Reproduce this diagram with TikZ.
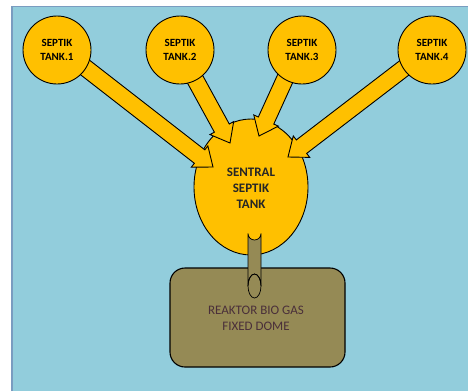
\documentclass[tikz,border=0pt]{standalone}
\usepackage{fontspec}
\setmainfont{Carlito}
\usetikzlibrary{calc,shapes.geometric}
\definecolor{bgblue}{HTML}{92CDDC}
\definecolor{tankyellow}{HTML}{FFC000}
\definecolor{olive}{HTML}{958A55}
\definecolor{edgeblue}{HTML}{7A9CC0}
\definecolor{textdark}{HTML}{4A2F3A}
\tikzset{
  tank/.style={circle, draw=black, line width=0.9pt, fill=tankyellow, minimum size=68pt, inner sep=0pt, align=center, font=\fontsize{11}{14}\selectfont\bfseries},
  central/.style={draw=black, line width=0.9pt, fill=tankyellow},
  reactor/.style={draw=black, line width=1.1pt, fill=olive, rounded corners=15pt},
  blockarrowstyle/.style={draw=black, line width=0.9pt, fill=tankyellow, line join=miter},
  pipestyle/.style={draw=black, line width=0.7pt, fill=olive}
}
\newcommand\blockarrow[2]{%
  \coordinate (#1-h) at ($(#2)!17pt!(#1)$);
  \path[blockarrowstyle]
    ($(#1)!8.5pt!90:(#2)$) -- ($(#1-h)!8.5pt!90:(#2)$) -- ($(#1-h)!13.5pt!90:(#2)$) -- (#2)
    -- ($(#1-h)!13.5pt!-90:(#2)$) -- ($(#1-h)!8.5pt!-90:(#2)$) -- ($(#1)!8.5pt!-90:(#2)$) -- cycle;
}
\begin{document}
\begin{tikzpicture}[x=1pt,y=-1pt]
\useasboundingbox (0,0) rectangle (468,391);
\fill[white] (0,0) rectangle (468,391);
\fill[bgblue] (11,6) rectangle (468,391);
\draw[edgeblue, line width=1.5pt] (11.75,391) -- (11.75,6.5) -- (468,6.5);

% central tank
\path[central] (251,187) ellipse [x radius=57, y radius=68];
\node[font=\fontsize{13}{16}\selectfont\bfseries, align=center, text=black!85] (central) at (251,188) {SENTRAL\\SEPTIK\\TANK};

% reactor
\path[reactor] (170,268) rectangle (345,367);
\node[font=\fontsize{13}{15.5}\selectfont, align=center, text=textdark] (reactor) at (256,318.5) {REAKTOR BIO GAS\\FIXED DOME};

% arrow endpoints
\coordinate (s1) at (78,62);
\coordinate (t1) at (213,167);
\coordinate (s2) at (190,70);
\coordinate (t2) at (230,143);
\coordinate (s3) at (290,68);
\coordinate (t3) at (259,136);
\coordinate (s4) at (412,62);
\coordinate (t4) at (288,157);
\blockarrow{s1}{t1}
\blockarrow{s2}{t2}
\blockarrow{s3}{t3}
\blockarrow{s4}{t4}

% septic tanks
\node[tank] (tank1) at (57,50) {SEPTIK\\TANK.1};
\node[tank] (tank2) at (180,50) {SEPTIK\\TANK.2};
\node[tank] (tank3) at (302,50) {SEPTIK\\TANK.3};
\node[tank] (tank4) at (432,50) {SEPTIK\\TANK.4};

% pipe
\path[pipestyle] (248,286) -- (248,233.5) arc[start angle=180, end angle=0, x radius=6.5, y radius=6.5] -- (261,286) arc[start angle=0, end angle=-180, x radius=6.5, y radius=12] -- cycle;
\draw[black, line width=0.7pt] (254.5,286) ellipse [x radius=6.5, y radius=12];
\end{tikzpicture}
\end{document}
